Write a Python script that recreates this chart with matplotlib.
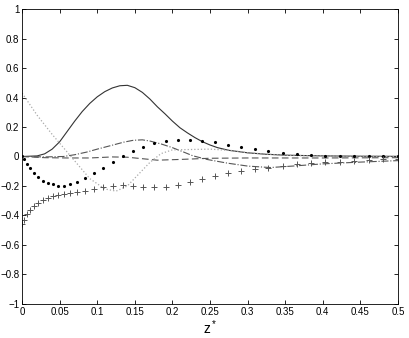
import matplotlib
matplotlib.use("Agg")
import matplotlib.pyplot as plt

plt.rcParams['font.family'] = ['Liberation Sans', 'DejaVu Sans']

# Stuetzstellen der Markerreihen
z_pts = [0, 0.003, 0.007, 0.011, 0.016, 0.021, 0.028, 0.035, 0.041, 0.048,
         0.056, 0.064, 0.073, 0.084, 0.096, 0.108, 0.121, 0.134, 0.148, 0.161,
         0.176, 0.191, 0.207, 0.223, 0.239, 0.257, 0.274, 0.291, 0.31, 0.327,
         0.347, 0.366, 0.384, 0.403, 0.423, 0.441, 0.461, 0.48, 0.5]
dots = [0, -0.02, -0.05, -0.08, -0.11, -0.14, -0.165, -0.18, -0.19, -0.2,
        -0.2, -0.19, -0.17, -0.145, -0.11, -0.08, -0.04, 0.0, 0.035, 0.065,
        0.09, 0.105, 0.11, 0.11, 0.105, 0.1, 0.08, 0.065, 0.05, 0.037,
        0.026, 0.017, 0.01, 0.005, 0.003, 0.002, 0.001, 0.0, 0.0]
plus = [-0.46, -0.43, -0.39, -0.36, -0.335, -0.315, -0.295, -0.28, -0.27, -0.26,
        -0.255, -0.25, -0.24, -0.235, -0.22, -0.205, -0.2, -0.195, -0.2, -0.205,
        -0.21, -0.205, -0.195, -0.175, -0.15, -0.13, -0.115, -0.1, -0.085, -0.08,
        -0.065, -0.05, -0.045, -0.04, -0.035, -0.03, -0.025, -0.02, -0.015]

# durchgezogene Linie
z_solid = [0, 0.02, 0.03, 0.04, 0.05, 0.06, 0.07, 0.08, 0.09, 0.1, 0.11, 0.12,
           0.13, 0.14, 0.15, 0.16, 0.17, 0.18, 0.19, 0.2, 0.21, 0.22, 0.23,
           0.24, 0.25, 0.26, 0.275, 0.3, 0.325, 0.35, 0.4, 0.45, 0.5]
solid = [0, 0.004, 0.018, 0.05, 0.1, 0.17, 0.24, 0.305, 0.36, 0.405, 0.44, 0.465,
         0.48, 0.483, 0.467, 0.435, 0.39, 0.337, 0.29, 0.24, 0.195, 0.16, 0.128,
         0.1, 0.078, 0.06, 0.042, 0.025, 0.015, 0.009, 0.004, 0.002, 0.001]

# Strich-Punkt
z_dashdot = [0, 0.03, 0.055, 0.07, 0.086, 0.1, 0.121, 0.135, 0.148, 0.16, 0.17,
             0.185, 0.2, 0.215, 0.227, 0.246, 0.273, 0.3, 0.33, 0.36, 0.4, 0.45, 0.5]
dashdot = [0, -0.003, 0, 0.012, 0.03, 0.05, 0.078, 0.097, 0.11, 0.113, 0.105,
           0.085, 0.06, 0.03, 0.005, -0.02, -0.045, -0.065, -0.075, -0.065,
           -0.05, -0.038, -0.028]

# gestrichelt
z_dashed = [0, 0.03, 0.06, 0.09, 0.12, 0.14, 0.16, 0.18, 0.21, 0.25, 0.3, 0.4, 0.5]
dashed = [0, -0.008, -0.01, -0.01, -0.003, -0.005, -0.015, -0.025, -0.02,
          -0.012, -0.01, -0.01, -0.008]

# gepunktet
z_dotted = [0, 0.02, 0.04, 0.06, 0.075, 0.09, 0.11, 0.125, 0.14, 0.155, 0.17,
            0.185, 0.2, 0.25, 0.28, 0.3, 0.35, 0.4, 0.5]
dotted = [0.43, 0.28, 0.15, 0.03, -0.06, -0.15, -0.22, -0.235, -0.2, -0.12,
          -0.04, 0.02, 0.045, 0.05, 0.04, 0.025, 0.008, 0.003, 0.0]

fig = plt.figure(figsize=(4.09, 3.38), dpi=100)
ax = fig.add_axes([0.054, 0.101, 0.919, 0.872])

ax.plot(z_solid, solid, '-', color='#333333', lw=0.8)
ax.plot(z_dashdot, dashdot, '-.', color='#555555', lw=0.8)
ax.plot(z_dashed, dashed, '--', color='#555555', lw=0.8, dashes=(6, 3))
ax.plot(z_dotted, dotted, ':', color='#aaaaaa', lw=0.9)
ax.plot(z_pts, dots, '.', color='black', ms=2.5)
ax.plot(z_pts, plus, '+', color='#555555', ms=5, mew=0.7)

ax.set_xlim(0, 0.5)
ax.set_ylim(-1, 1)
ax.set_xticks([0, 0.05, 0.1, 0.15, 0.2, 0.25, 0.3, 0.35, 0.4, 0.45, 0.5])
ax.set_xticklabels(['0', '0.05', '0.1', '0.15', '0.2', '0.25', '0.3', '0.35', '0.4', '0.45', '0.5'])
ax.set_yticks([-1, -0.8, -0.6, -0.4, -0.2, 0, 0.2, 0.4, 0.6, 0.8, 1])
ax.set_yticklabels(['\u22121', '\u22120.8', '\u22120.6', '\u22120.4', '\u22120.2', '0',
                    '0.2', '0.4', '0.6', '0.8', '1'])
ax.tick_params(direction='in', top=True, right=True, labelsize=7, length=3,
               width=0.6, pad=2)
for s in ax.spines.values():
    s.set_linewidth(0.6)
ax.set_xlabel(r'$\mathregular{z^*}$', fontsize=10, labelpad=1)

fig.savefig('out.png', dpi=100)
